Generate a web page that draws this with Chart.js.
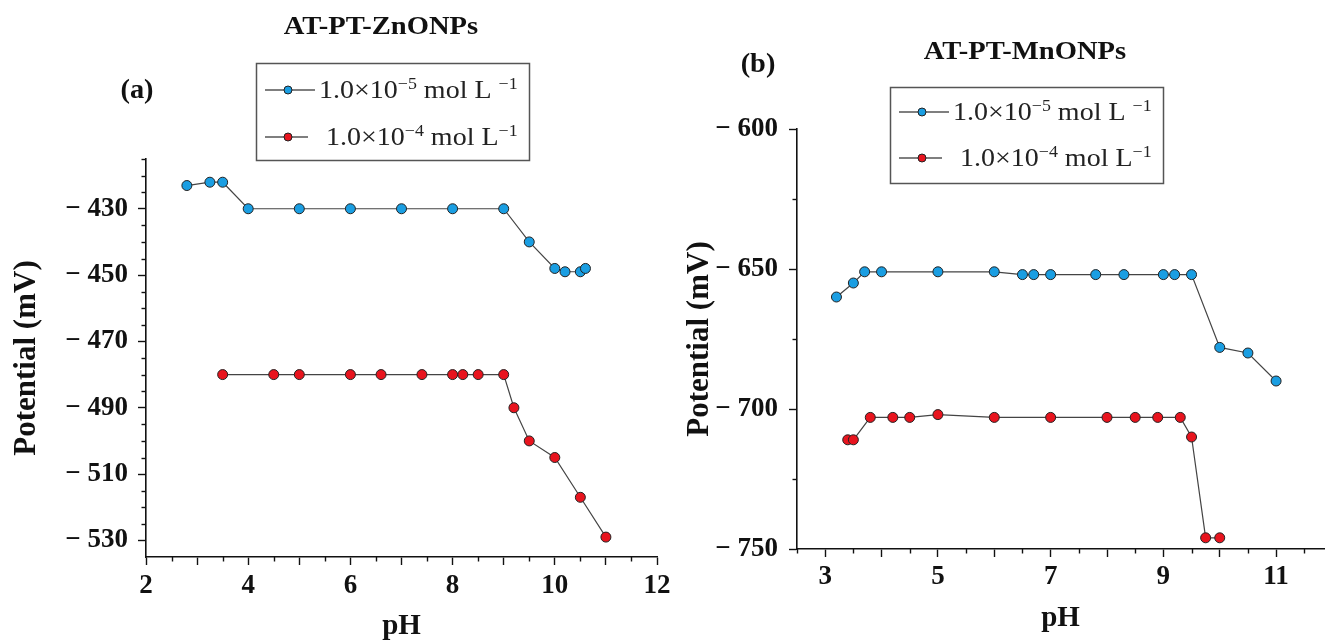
<!DOCTYPE html>
<html><head><meta charset="utf-8">
<script src="https://cdn.jsdelivr.net/npm/chart.js@4"></script>
<style>
html,body{margin:0;padding:0;background:#fff;width:1330px;height:644px;overflow:hidden}
.box{position:absolute;top:0;height:644px}
#wa{left:0;width:690px;z-index:2} #wb{left:665px;width:665px;z-index:1}
</style></head><body>
<div class="box" id="wa"><canvas id="ca"></canvas></div>
<div class="box" id="wb"><canvas id="cb"></canvas></div>
<script>
// ---------- Panel (a): AT-PT-ZnONPs ----------
const titleA = 'AT-PT-ZnONPs';
const phA5 = [2.8, 3.25, 3.5, 4, 5, 6, 7, 8, 9, 9.5, 10, 10.2, 10.5, 10.6];
const potA5 = [-423, -422, -422, -430, -430, -430, -430, -430, -430, -440, -448, -449, -449, -448];
const phA4 = [3.5, 4.5, 5, 6, 6.6, 7.4, 8, 8.2, 8.5, 9, 9.2, 9.5, 10, 10.5, 11];
const potA4 = [-480, -480, -480, -480, -480, -480, -480, -480, -480, -480, -490, -500, -505, -517, -529];
const xTicksA = [2, 2.5, 3, 3.5, 4, 4.5, 5, 5.5, 6, 6.5, 7, 7.5, 8, 8.5, 9, 9.5, 10, 10.5, 11, 11.5, 12];
const xLabelsA = [2, 4, 6, 8, 10, 12];
const yTicksA = [-530, -525, -520, -515, -510, -505, -500, -495, -490, -485, -480, -475, -470, -465, -460, -455, -450, -445, -440, -435, -430, -425, -420, -415];
const yLabelsA = [-530, -510, -490, -470, -450, -430];

// ---------- Panel (b): AT-PT-MnONPs ----------
const titleB = 'AT-PT-MnONPs';
const phB5 = [3.2, 3.5, 3.7, 4, 5, 6, 6.5, 6.7, 7, 7.8, 8.3, 9, 9.2, 9.5, 10, 10.5, 11];
const potB5 = [-660, -655, -651, -651, -651, -651, -652, -652, -652, -652, -652, -652, -652, -652, -678, -680, -690];
const phB4 = [3.4, 3.5, 3.8, 4.2, 4.5, 5, 6, 7, 8, 8.5, 8.9, 9.3, 9.5, 9.75, 10];
const potB4 = [-711, -711, -703, -703, -703, -702, -703, -703, -703, -703, -703, -703, -710, -746, -746];
const xTicksB = [2.5, 3, 3.5, 4, 4.5, 5, 5.5, 6, 6.5, 7, 7.5, 8, 8.5, 9, 9.5, 10, 10.5, 11, 11.5];
const xLabelsB = [3, 5, 7, 9, 11];
const yTicksB = [-750, -725, -700, -675, -650, -625, -600];
const yLabelsB = [-750, -700, -650, -600];

const seriesNames = ['1.0×10', '1.0×10'];
const blue = '#1a9ee2', red = '#e8141e';
const SERIF = '"Liberation Serif", "Times New Roman", serif';

function minusLabel(v){ return '\u2212 ' + Math.abs(v); }

function ds(xs, ys, color){
  return {
    data: xs.map((x,i)=>({x, y: ys[i]})),
    borderColor: '#444', borderWidth: 1.2,
    pointBackgroundColor: color, pointBorderColor: '#222', pointBorderWidth: 1,
    pointRadius: 5, pointHoverRadius: 5, showLine: true, tension: 0, fill: false
  };
}

function isInt(v){ return Math.abs(v - Math.round(v)) < 1e-9; }

const minorTicks = {
  id: 'minorTicks',
  afterDraw(chart, args, o){
    const ctx = chart.ctx;
    ctx.save(); ctx.strokeStyle = '#111'; ctx.lineWidth = 1.4;
    const xs = chart.scales.x, ys = chart.scales.y;
    xs.ticks.forEach(t => {
      if (!isInt(t.value)) {
        const p = Math.round(xs.getPixelForValue(t.value)) + 0.5;
        ctx.beginPath(); ctx.moveTo(p, xs.top); ctx.lineTo(p, xs.top + 4.5); ctx.stroke();
      }
    });
    ys.ticks.forEach(t => {
      if (!o.yMajor.includes(t.value)) {
        const p = Math.round(ys.getPixelForValue(t.value)) + 0.5;
        ctx.beginPath(); ctx.moveTo(ys.right, p); ctx.lineTo(ys.right - 4.5, p); ctx.stroke();
      }
    });
    ctx.restore();
  }
};

function drawStretched(ctx, text, x, y, font, sx, align){
  ctx.save(); ctx.font = font; ctx.textBaseline = 'middle'; ctx.fillStyle = '#111';
  const w = ctx.measureText(text).width * sx;
  let x0 = align === 'center' ? x - w/2 : x;
  ctx.translate(x0, y); ctx.scale(sx, 1); ctx.textAlign = 'left'; ctx.fillText(text, 0, 0);
  ctx.restore();
}

function drawRich(ctx, x, y, parts, size, sx){
  ctx.save(); ctx.translate(x, y); ctx.scale(sx, 1);
  ctx.textBaseline = 'alphabetic'; ctx.fillStyle = '#222'; ctx.textAlign = 'left';
  let cx = 0;
  parts.forEach(p => {
    const fs = p.sup ? size * 0.64 : size;
    ctx.font = fs + 'px ' + SERIF;
    ctx.fillText(p.t, cx, p.sup ? -size * 0.38 : 0);
    cx += ctx.measureText(p.t).width;
  });
  ctx.restore();
}

const decor = {
  id: 'decor',
  afterDraw(chart, args, o){
    const ctx = chart.ctx;
    drawStretched(ctx, o.title, o.titleX, o.titleY, 'bold 26px ' + SERIF, 1.1, 'center');
    drawStretched(ctx, o.tag, o.tagX, o.tagY, 'bold 27px ' + SERIF, 1.05, 'center');
    const L = o.legend;
    ctx.save();
    ctx.strokeStyle = '#555'; ctx.lineWidth = 1.5;
    ctx.strokeRect(L.x + 0.5, L.y + 0.5, L.w, L.h);
    const colors = [blue, red];
    const exps = ['\u22125', '\u22124'];
    L.rows.forEach((ry, i) => {
      const y = L.y + ry;
      ctx.strokeStyle = '#555'; ctx.lineWidth = 1.6;
      ctx.beginPath(); ctx.moveTo(L.x + 9, y); ctx.lineTo(L.x + (i ? 52 : 59), y); ctx.stroke();
      ctx.beginPath(); ctx.arc(L.x + 32, y, 4, 0, Math.PI * 2);
      ctx.fillStyle = colors[i]; ctx.fill(); ctx.strokeStyle = '#222'; ctx.lineWidth = 1; ctx.stroke();
      const parts = [{t: (i ? ' ' : '') + seriesNames[i]}, {t: exps[i], sup: true}, {t: i ? ' mol L' : ' mol L '}, {t: '\u22121', sup: true}];
      drawRich(ctx, L.x + 63, y + 8, parts, 25, 1.12);
    });
    ctx.restore();
  }
};

function makeChart(id, cfg){
  const tickFont = {family: SERIF, size: 27, weight: 'bold'};
  return new Chart(document.getElementById(id), {
    type: 'scatter',
    data: {datasets: [ds(cfg.x5, cfg.y5, blue), ds(cfg.x4, cfg.y4, red)]},
    options: {
      responsive: true, maintainAspectRatio: false, animation: false,
      layout: {padding: {left: 0, top: cfg.top, right: cfg.padRight, bottom: 0}},
      plugins: {legend: {display: false}, tooltip: {enabled: false},
        minorTicks: {yMajor: cfg.yLabels},
        decor: cfg.decor},
      scales: {
        x: {
          type: 'linear', min: cfg.xmin, max: cfg.xmax,
          afterBuildTicks: s => { s.ticks = cfg.xTicks.map(v => ({value: v})); },
          afterFit: s => { s.height = cfg.xH; s.paddingLeft = 0; s.paddingRight = 0; },
          border: {display: true, color: '#111', width: 1.6},
          grid: {display: true, drawOnChartArea: false, drawTicks: true, tickLength: 8,
                 tickWidth: 1.4, tickColor: c => isInt(c.tick.value) ? '#111' : 'rgba(0,0,0,0)'},
          ticks: {autoSkip: false, maxRotation: 0, padding: cfg.xPad, color: '#111', font: tickFont,
                  callback: v => cfg.xLabels.includes(v) ? String(v) : ''},
          title: {display: true, text: 'pH', color: '#111', font: {family: SERIF, size: 29, weight: 'bold'},
                  padding: {top: 0, bottom: cfg.xTitlePad}}
        },
        y: {
          type: 'linear', min: cfg.ymin, max: cfg.ymax,
          afterBuildTicks: s => { s.ticks = cfg.yTicks.map(v => ({value: v})); },
          afterFit: s => { s.width = cfg.yW; s.paddingTop = 0; s.paddingBottom = 0; },
          border: {display: true, color: '#111', width: 1.6},
          grid: {display: true, drawOnChartArea: false, drawTicks: true, tickLength: 8,
                 tickWidth: 1.4, tickColor: c => cfg.yLabels.includes(c.tick.value) ? '#111' : 'rgba(0,0,0,0)'},
          ticks: {autoSkip: false, padding: cfg.yPad, color: '#111', font: tickFont,
                  callback: v => cfg.yLabels.includes(v) ? minusLabel(v) : ''},
          title: {display: true, text: 'Potential (mV)', color: '#111', font: {family: SERIF, size: 31, weight: 'bold'},
                  padding: {top: cfg.yTitlePad, bottom: 0}}
        }
      }
    },
    plugins: [minorTicks, decor]
  });
}

makeChart('ca', {
  x5: phA5, y5: potA5, x4: phA4, y4: potA4,
  xmin: 2, xmax: 12, ymin: -535, ymax: -415,
  xTicks: xTicksA, xLabels: xLabelsA, yTicks: yTicksA, yLabels: yLabelsA,
  top: 159, padRight: 33, xH: 87, yW: 146, xPad: 5, yPad: 10, xTitlePad: 0, yTitlePad: 8,
  decor: {title: titleA, titleX: 381, titleY: 27, tag: '(a)', tagX: 137, tagY: 91,
          legend: {x: 256, y: 63, w: 273, h: 97, rows: [27, 74]}}
});

makeChart('cb', {
  x5: phB5, y5: potB5, x4: phB4, y4: potB4,
  xmin: 2.5, xmax: 11.85, ymin: -750, ymax: -600,
  xTicks: xTicksB, xLabels: xLabelsB, yTicks: yTicksB, yLabels: yLabelsB,
  top: 129, padRight: 0, xH: 95, yW: 132, xPad: 4, yPad: 11, xTitlePad: 8, yTitlePad: 16,
  decor: {title: titleB, titleX: 360, titleY: 52, tag: '(b)', tagX: 93, tagY: 65,
          legend: {x: 225, y: 87, w: 273, h: 96, rows: [25, 71]}}
});
</script>
</body></html>
